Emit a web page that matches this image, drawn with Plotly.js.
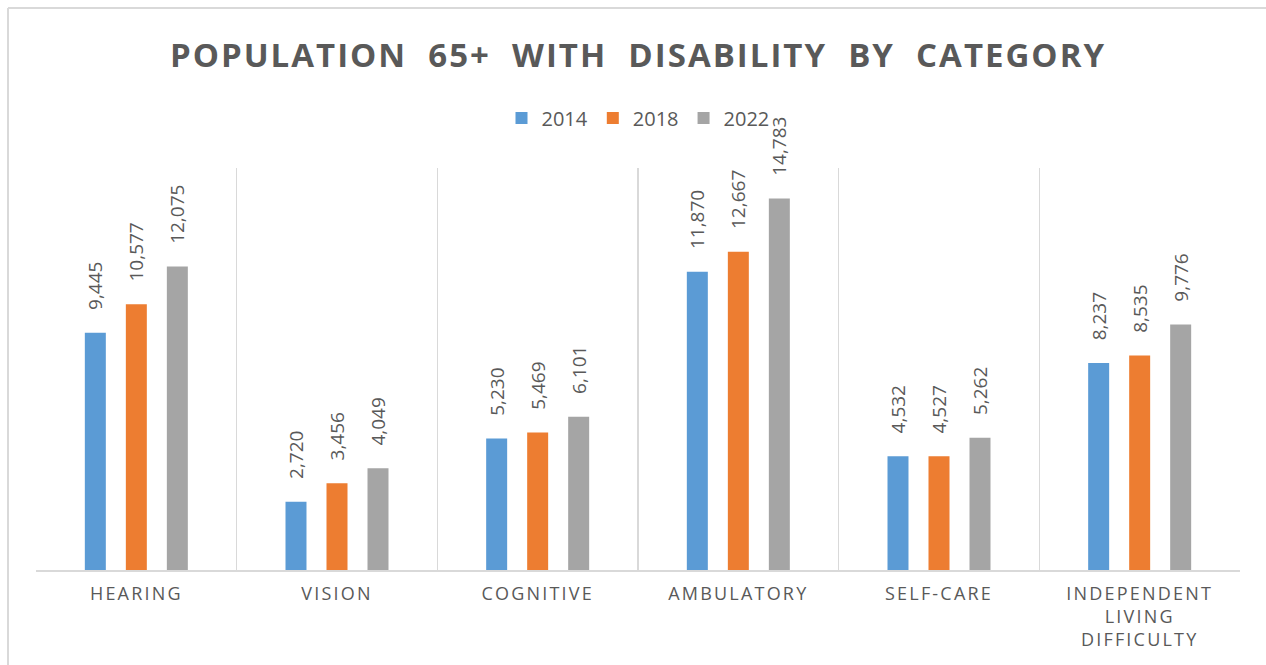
<!DOCTYPE html>
<html>
<head>
<meta charset="utf-8">
<script src="https://cdn.plot.ly/plotly-3.0.1.min.js"></script>
<style>
  html, body { margin: 0; padding: 0; background: #fff; }
  #chart { width: 1266px; height: 665px; }
</style>
</head>
<body>
<div id="chart"></div>
<script>
const categories = ["HEARING", "VISION", "COGNITIVE", "AMBULATORY", "SELF-CARE", "INDEPENDENT<br>LIVING<br>DIFFICULTY"];
const seriesNames = ["2014", "2018", "2022"];
const values2014 = [9445, 2720, 5230, 11870, 4532, 8237];
const values2018 = [10577, 3456, 5469, 12667, 4527, 8535];
const values2022 = [12075, 4049, 6101, 14783, 5262, 9776];
const colors = ["#5B9BD5", "#ED7D31", "#A5A5A5"];

const allValues = [values2014, values2018, values2022];
const FONT = "Open Sans, Liberation Sans, sans-serif";

const traces = allValues.map((vals, i) => ({
  type: "bar",
  name: seriesNames[i],
  x: categories,
  y: vals,
  marker: { color: colors[i] },
  texttemplate: "\u00a0\u00a0\u00a0\u00a0%{y:,}",
  textposition: "outside",
  textangle: -90,
  cliponaxis: false,
  constraintext: "none",
  textfont: { family: FONT, size: 19, color: "#595959" },
  hoverinfo: "x+y+name"
}));

const layout = {
  width: 1266,
  height: 665,
  margin: { l: 36, r: 26, t: 168, b: 95 },
  paper_bgcolor: "#ffffff",
  plot_bgcolor: "#ffffff",
  barmode: "group",
  bargap: 0.387,
  bargroupgap: 0.488,
  separators: ".,",
  title: {
    text: "<b>POPULATION  65+  WITH  DISABILITY  BY  CATEGORY</b>",
    font: { family: FONT, size: 33, color: "#595959" },
    x: 0.5, xref: "paper", xanchor: "center",
    y: 1 - 55 / 665, yref: "container", yanchor: "middle"
  },
  legend: {
    orientation: "h",
    x: 0.5, xanchor: "center",
    y: (570 - 118) / 402, yanchor: "middle",
    bgcolor: "rgba(0,0,0,0)",
    font: { family: FONT, size: 20, color: "#595959" },
    itemwidth: 30,
    traceorder: "normal"
  },
  xaxis: {
    type: "category",
    tickson: "boundaries",
    showgrid: true,
    gridcolor: "#d9d9d9",
    gridwidth: 1.5,
    showline: true,
    linecolor: "#d9d9d9",
    linewidth: 2,
    ticks: "",
    tickfont: { family: FONT, size: 18, color: "#595959" },
    ticklabelstandoff: 6,
    range: [-0.5, 5.5],
    fixedrange: true
  },
  yaxis: {
    range: [0, 16000],
    showgrid: false,
    zeroline: false,
    showticklabels: false,
    ticks: "",
    showline: false,
    fixedrange: true
  },
  shapes: [
    { type: "line", xref: "paper", yref: "paper",
      x0: (8 - 36) / 1204, x1: (8 - 36) / 1204,
      y0: (570 - 8) / 402, y1: (570 - 670) / 402,
      line: { color: "#d9d9d9", width: 2 } },
    { type: "line", xref: "paper", yref: "paper",
      x0: (8 - 36) / 1204, x1: (1270 - 36) / 1204,
      y0: (570 - 8) / 402, y1: (570 - 8) / 402,
      line: { color: "#d9d9d9", width: 2 } }
  ],
  showlegend: true
};

Plotly.newPlot("chart", traces, layout, { displayModeBar: false, staticPlot: true }).then(gd => {
  gd.querySelectorAll(".gtitle").forEach(t => { t.style.letterSpacing = "2px"; });
  gd.querySelectorAll(".xtick text").forEach(t => { t.style.letterSpacing = "2.2px"; });
});
</script>
</body>
</html>
